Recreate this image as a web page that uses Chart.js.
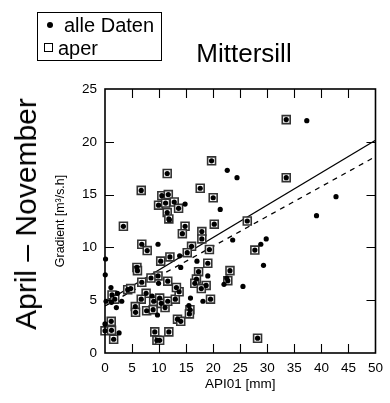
<!DOCTYPE html>
<html><head><meta charset="utf-8">
<script src="https://cdn.jsdelivr.net/npm/chart.js@4/dist/chart.umd.min.js"></script>
<style>
html,body{margin:0;padding:0;background:#fff;}
#wrap{position:relative;width:390px;height:403px;font-family:"Liberation Sans",Arial,sans-serif;color:#000;}
canvas{position:absolute;left:0;top:0;}
.t{position:absolute;white-space:nowrap;line-height:1;}
</style></head>
<body>
<div id="wrap">
<canvas id="c" width="390" height="403"></canvas>
<div class="t" style="left:37px;top:12px;width:125px;height:49px;border:1px solid #000;box-sizing:border-box;"></div>
<div class="t" style="left:47px;top:22px;width:6px;height:6px;border-radius:50%;background:#000;"></div>
<div class="t" style="left:64px;top:15px;font-size:20px;">alle Daten</div>
<div class="t" style="left:44px;top:43px;width:9px;height:9px;border:1px solid #000;box-sizing:border-box;"></div>
<div class="t" style="left:58px;top:38px;font-size:20px;">aper</div>
<div class="t" style="left:244px;top:40px;font-size:26px;transform:translateX(-50%);">Mittersill</div>
<div class="t" style="left:26px;top:214px;font-size:30px;transform:translate(-50%,-50%) rotate(-90deg);">April – November</div>
</div>
<script>
// Data
const dotsOnlyX = [22.6,24.4,21.3,14.8,37.3,42.7,39.1,28.8,29.8,29.3,25.5,9.8,23.6,0.1,13.8,17.0,14.0,0.05,9.9,19.0,22.0,22.5,1.1,2.3,0.2,1.2,3.1,2.1,8.7,9.7,15.8,15.5,18.1,0,2.6,11.9];
const dotsOnlyY = [17.3,16.6,13.6,14.1,22.0,14.8,13.0,10.3,10.8,8.3,6.3,10.3,10.7,8.9,9.2,8.7,8.1,7.4,6.6,7.3,6.5,7.1,6.2,5.65,4.9,4.8,4.9,4.3,5.4,3.6,5.2,4.5,4.9,2.75,1.9,12.6];
const aperX = [19.7,11.5,6.7,17.6,20.0,10.5,11.7,9.9,11.2,12.8,13.6,11.5,11.8,33.5,33.5,26.3,27.7,28.2,3.4,14.8,14.3,20.2,17.9,17.9,6.8,7.8,16.0,15.2,19.3,12.0,10.3,5.9,6.0,19.0,17.3,23.1,9.8,8.5,6.8,11.6,16.9,16.6,22.7,18.7,17.8,4.2,4.75,1.3,1.8,7.6,6.7,5.6,5.65,7.7,8.9,9.0,10.1,10.4,11.1,11.6,13.0,13.7,13.2,15.7,15.6,19.5,1.15,0,1.2,1.6,9.2,11.8,9.6,10.1,13.4,14.0];
const aperY = [18.2,17.0,15.4,15.6,14.7,14.9,15.0,14.0,14.2,14.3,13.7,13.3,12.7,22.1,16.6,12.5,9.75,1.4,12.0,12.0,11.3,12.2,11.5,10.8,10.3,9.7,10.1,9.5,9.8,9.1,8.7,8.1,7.8,8.5,7.7,7.8,7.3,7.1,6.7,6.8,7.0,6.6,6.85,6.4,6.1,6.0,6.1,5.5,5.1,5.65,5.1,4.4,3.85,4.0,4.1,4.9,5.2,4.7,4.3,4.9,5.1,5.8,6.2,4.1,3.7,5.1,3.0,2.1,2.15,1.3,2.0,2.0,1.2,1.2,3.2,3.0];
const lineX = [0, 50];
const solidY = [4.8, 20.15];
const dashedY = [4.45, 18.6];
const xTicks = [0,5,10,15,20,25,30,35,40,45,50];
const yTicks = [0,5,10,15,20,25];

const pts = (xs, ys) => xs.map((x, i) => ({x, y: ys[i]}));
const allDots = pts(dotsOnlyX, dotsOnlyY).concat(pts(aperX, aperY));

const frame = {
  id: 'frame',
  afterDraw(chart) {
    const {ctx, chartArea: a, scales: {x, y}} = chart;
    ctx.save();
    ctx.strokeStyle = '#000';
    ctx.lineWidth = 1.1;
    const L = 9;
    ctx.beginPath();
    xTicks.slice(1, -1).forEach(v => {
      const p = Math.round(x.getPixelForValue(v)) + 0.5;
      ctx.moveTo(p, a.bottom); ctx.lineTo(p, a.bottom - L);
      ctx.moveTo(p, a.top); ctx.lineTo(p, a.top + L);
    });
    yTicks.slice(1, -1).forEach(v => {
      const p = Math.round(y.getPixelForValue(v)) + 0.5;
      ctx.moveTo(a.left, p); ctx.lineTo(a.left + L, p);
      ctx.moveTo(a.right, p); ctx.lineTo(a.right - L, p);
    });
    ctx.stroke();
    ctx.lineWidth = 1.6;
    ctx.strokeRect(a.left, a.top, a.right - a.left, a.bottom - a.top);
    ctx.restore();
  }
};

new Chart(document.getElementById('c'), {
  type: 'scatter',
  data: {
    datasets: [
      {label: 'alle Daten', data: allDots, pointStyle: 'circle', pointRadius: 2.6,
       backgroundColor: '#000', borderColor: '#000', borderWidth: 0, order: 0, clip: false},
      {label: 'aper', data: pts(aperX, aperY), pointStyle: 'rect', pointRadius: 5.6,
       backgroundColor: '#fff', borderColor: '#333', borderWidth: 1.6, order: 1, clip: false},
      {type: 'line', label: 'fit alle', data: pts(lineX, solidY), borderColor: '#000', borderWidth: 1.3,
       pointRadius: 0, fill: false, order: 2},
      {type: 'line', label: 'fit aper', data: pts(lineX, dashedY), borderColor: '#000', borderWidth: 1.3,
       borderDash: [5, 5], pointRadius: 0, fill: false, order: 2}
    ]
  },
  options: {
    responsive: false,
    animation: false,
    devicePixelRatio: 1,
    layout: {padding: {left: 0, top: 89, right: 8, bottom: 0}},
    plugins: {legend: {display: false}, tooltip: {enabled: false}, title: {display: false}},
    scales: {
      x: {
        type: 'linear', min: 0, max: 50,
        afterBuildTicks: s => { s.ticks = xTicks.map(v => ({value: v})); },
        afterFit: s => { s.height = 50; },
        grid: {display: false, drawTicks: false},
        border: {display: false},
        ticks: {padding: 7, color: '#000', font: {family: 'Liberation Sans', size: 13.5}, maxRotation: 0},
        title: {display: true, text: 'API01 [mm]', color: '#000',
                font: {family: 'Liberation Sans', size: 13.5}, padding: {top: 0, bottom: 11}}
      },
      y: {
        type: 'linear', min: 0, max: 25,
        afterBuildTicks: s => { s.ticks = yTicks.map(v => ({value: v})); },
        afterFit: s => { s.width = 105; },
        grid: {display: false, drawTicks: false},
        border: {display: false},
        ticks: {padding: 8, color: '#000', font: {family: 'Liberation Sans', size: 13.5}},
        title: {display: true, text: 'Gradient [m³/s.h]', color: '#000',
                font: {family: 'Liberation Sans', size: 12.4}, padding: {top: 53, bottom: 0}}
      }
    }
  },
  plugins: [frame]
});
</script>
</body></html>
